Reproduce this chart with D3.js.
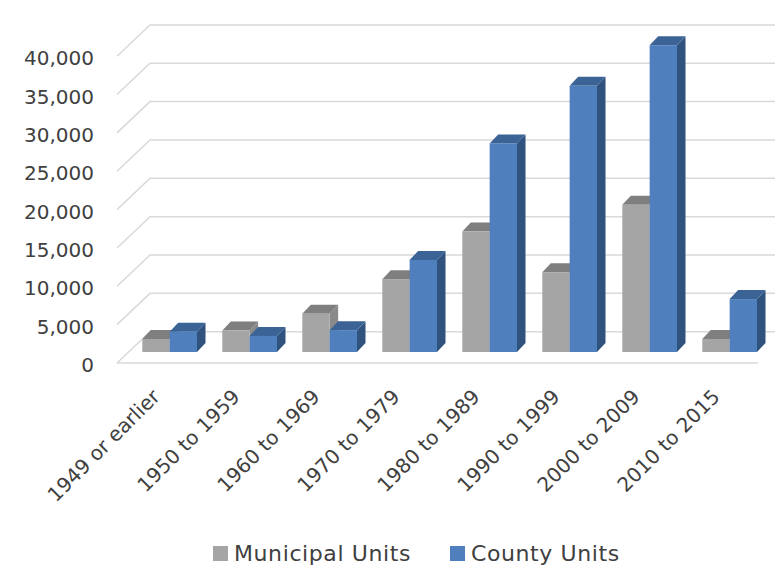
<!DOCTYPE html>
<meta charset="utf-8">
<style>
body { margin: 0; background: #fff; }
.grid { fill: none; stroke: #d9d9d9; stroke-width: 1.5px; }
.label { font-family: "DejaVu Sans", sans-serif; fill: #404040; }
</style>
<body>
<script src="https://cdn.jsdelivr.net/npm/d3@7"></script>
<script>
var width = 775,
    height = 566;

var categories = ["1949 or earlier", "1950 to 1959", "1960 to 1969", "1970 to 1979",
                  "1980 to 1989", "1990 to 1999", "2000 to 2009", "2010 to 2015"];
var municipal = [1700, 2800, 5000, 9500, 15700, 10400, 19200, 1700];
var county    = [2650, 2100, 2850, 12000, 27200, 34700, 40000, 6900];
var seriesNames = ["Municipal Units", "County Units"];
var yTicks = [0, 5000, 10000, 15000, 20000, 25000, 30000, 35000, 40000];

var colors = {
  "Municipal Units": {front: "#a5a5a5", top: "#7f7f7f", side: "#8a8a8a"},
  "County Units":    {front: "#4f80bd", top: "#3b6396", side: "#30527f"}
};

// oblique 3d: front floor edge, back wall and bar depth offsets
var floorY = 363,
    wall = [33, -31.3],
    barFront = [11, -11],
    barDepth = [8.5, -9];

var x = d3.scaleBand().domain(categories).range([117, 757]);
var xs = d3.scaleBand().domain(seriesNames).range([14.3, 69]);
var y = d3.scaleLinear().domain([0, 40000]).range([0, 306.8]);

var svg = d3.select("body").append("svg")
    .attr("width", width)
    .attr("height", height);

// gridlines: side wall diagonal + back wall horizontal
svg.append("g").selectAll("path")
  .data(yTicks)
  .enter().append("path")
    .attr("class", "grid")
    .attr("d", function(v) {
      var fy = floorY - y(v);
      return "M" + x.range()[0] + "," + fy +
             "L" + (x.range()[0] + wall[0]) + "," + (fy + wall[1]) +
             "L" + width + "," + (fy + wall[1]);
    });

// front floor edge
svg.append("path")
    .attr("class", "grid")
    .attr("d", "M" + x.range()[0] + "," + floorY + "L" + (x.range()[1] + 1) + "," + floorY);

var bars = [];
categories.forEach(function(c, i) {
  bars.push({cat: c, name: seriesNames[0], value: municipal[i]});
  bars.push({cat: c, name: seriesNames[1], value: county[i]});
});

var g = svg.append("g").selectAll("g")
  .data(bars)
  .enter().append("g");

function poly(pts) { return "M" + pts.map(function(p) { return p.join(","); }).join("L") + "Z"; }

g.each(function(d) {
  var x0 = x(d.cat) + xs(d.name) + barFront[0],
      x1 = x0 + xs.bandwidth(),
      yb = floorY + barFront[1],
      yt = yb - y(d.value),
      dx = barDepth[0], dy = barDepth[1],
      sel = d3.select(this), col = colors[d.name];
  sel.append("path")
      .attr("fill", col.side)
      .attr("d", poly([[x1, yt], [x1 + dx, yt + dy], [x1 + dx, yb + dy], [x1, yb]]));
  sel.append("path")
      .attr("fill", col.top)
      .attr("d", poly([[x0, yt], [x0 + dx, yt + dy], [x1 + dx, yt + dy], [x1, yt]]));
  sel.append("rect")
      .attr("fill", col.front)
      .attr("x", x0)
      .attr("y", yt)
      .attr("width", xs.bandwidth())
      .attr("height", y(d.value));
});

// y labels
svg.append("g").selectAll("text")
  .data(yTicks)
  .enter().append("text")
    .attr("class", "label")
    .attr("x", 94)
    .attr("y", function(v) { return floorY - y(v) + 2; })
    .attr("dy", "0.35em")
    .attr("text-anchor", "end")
    .style("font-size", "20px")
    .text(d3.format(","));

// x labels
svg.append("g").selectAll("text")
  .data(categories)
  .enter().append("text")
    .attr("class", "label")
    .attr("text-anchor", "end")
    .attr("transform", function(c) {
      return "translate(" + (x(c) + x.bandwidth() / 2 + 4) + "," + 398 + ") rotate(-45)";
    })
    .style("font-size", "20px")
    .text(function(c) { return c; });

// legend
var legend = svg.append("g").selectAll("g")
  .data(seriesNames)
  .enter().append("g")
    .attr("transform", function(d, i) { return "translate(" + [213, 450][i] + ",546)"; });

legend.append("rect")
    .attr("width", 15)
    .attr("height", 15)
    .attr("fill", function(d) { return colors[d].front; });

legend.append("text")
    .attr("class", "label")
    .attr("x", 21)
    .attr("y", 15)
    .style("font-size", "22px")
    .style("letter-spacing", "0.6px")
    .text(function(d) { return d; });
</script>
</body>
